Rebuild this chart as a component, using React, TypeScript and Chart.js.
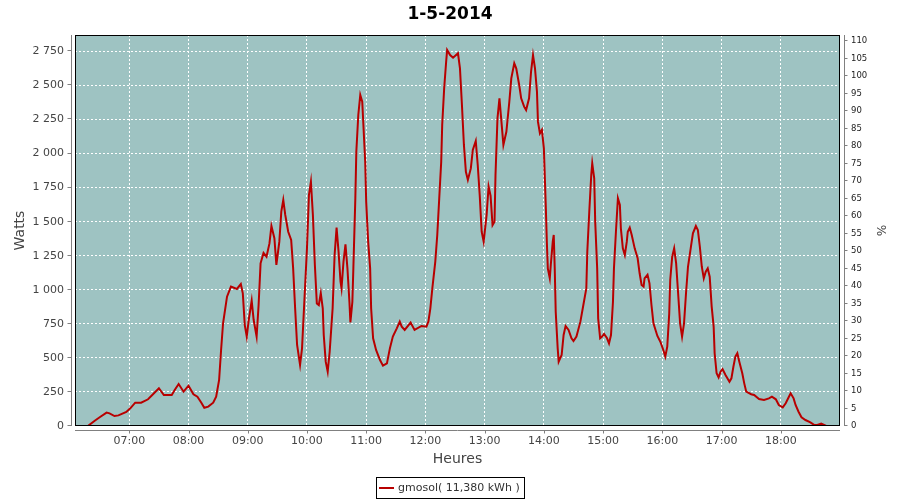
import React, { useEffect, useRef } from "react";
import { Chart, registerables } from "chart.js";

Chart.register(...registerables);

const chartTitle = "1-5-2014";
const seriesName = "gmosol( 11,380 kWh )";
const xTitle = "Heures";
const yTitle = "Watts";
const y2Title = "%";

// minutes since midnight
const minutes = [
  378, 385, 390, 397, 400, 405, 409, 417, 421, 426, 432, 439, 444, 450, 455, 463, 466, 470, 475, 480,
  485, 489, 493, 496, 500, 505, 508, 511, 513, 515, 519, 523, 529, 533, 535, 537, 539, 541, 544, 546,
  549, 551, 553, 556, 559, 562, 564, 567, 569, 572, 574, 576, 578, 581, 584, 586, 588, 590, 593, 595,
  597, 600, 602, 604, 606, 608, 610, 612, 614, 616, 617, 619, 621, 623, 626, 628, 630, 632, 634, 635,
  637, 639, 641, 643, 644, 646, 647, 649, 650, 652, 654, 656, 657, 659, 660, 662, 664, 665, 667, 670,
  674, 677, 681, 684, 687, 691, 694, 696, 699, 705, 709, 716, 721, 723, 725, 727, 730, 732, 734, 736,
  737, 739, 741, 742, 745, 748, 753, 755, 757, 759, 761, 763, 766, 768, 771, 773, 775, 777, 779, 782,
  784, 786, 788, 790, 791, 793, 795, 797, 799, 802, 805, 807, 810, 812, 815, 817, 820, 822, 825, 827,
  829, 831, 833, 834, 836, 838, 840, 841, 842, 843, 844, 846, 847, 849, 850, 851, 852, 854, 855, 858,
  860, 862, 865, 868, 870, 873, 877, 880, 883, 884, 886, 888, 889, 891, 892, 894, 895, 897, 899, 901,
  904, 906, 908, 910, 911, 913, 915, 917, 918, 920, 922, 924, 925, 927, 929, 932, 935, 937, 939, 941,
  942, 945, 947, 949, 951, 955, 958, 961, 963, 965, 967, 968, 970, 972, 974, 976, 978, 980, 982, 984,
  986, 989, 991, 994, 996, 998, 1000, 1002, 1004, 1006, 1008, 1010, 1012, 1013, 1015, 1017, 1019, 1021, 1024, 1028,
  1030, 1032, 1034, 1036, 1038, 1041, 1043, 1045, 1050, 1053, 1058, 1063, 1068, 1071, 1075, 1078, 1082, 1085, 1088, 1090,
  1093, 1095, 1098, 1101, 1105, 1110, 1114, 1117, 1121, 1126,
];

const watts = [
  0, 39, 64, 98, 93, 73, 78, 103, 130, 171, 171, 196, 233, 277, 227, 227, 264, 308, 252, 296,
  233, 215, 171, 134, 142, 171, 215, 338, 558, 754, 949, 1023, 1006, 1042, 974, 741, 656, 778, 920, 778,
  656, 888, 1194, 1270, 1243, 1340, 1468, 1378, 1182, 1353, 1573, 1659, 1549, 1426, 1365, 1157, 864, 595, 448, 570,
  864, 1304, 1695, 1793, 1549, 1182, 900, 888, 974, 864, 668, 472, 399, 545, 864, 1255, 1456, 1280, 1059, 1010,
  1206, 1333, 1157, 912, 760, 912, 1157, 1671, 2013, 2283, 2430, 2380, 2234, 1940, 1646, 1353, 1157, 864, 644, 558,
  484, 443, 460, 570, 656, 717, 766, 729, 705, 759, 705, 734, 729, 766, 864, 1010, 1206, 1402, 1671, 1940,
  2209, 2479, 2674, 2760, 2723, 2703, 2736, 2625, 2356, 2063, 1866, 1806, 1891, 2026, 2092, 1916, 1695, 1426, 1353, 1549,
  1757, 1690, 1475, 1500, 1842, 2258, 2405, 2234, 2063, 2160, 2380, 2552, 2662, 2625, 2503, 2405, 2344, 2319, 2405, 2600,
  2723, 2625, 2454, 2234, 2148, 2173, 2038, 1818, 1598, 1353, 1157, 1084, 1182, 1353, 1402, 1157, 839, 570, 472, 521,
  668, 734, 705, 644, 624, 656, 766, 888, 1010, 1280, 1573, 1842, 1928, 1818, 1500, 1157, 790, 644, 656, 675,
  644, 607, 668, 912, 1157, 1426, 1671, 1622, 1451, 1304, 1255, 1353, 1426, 1456, 1402, 1304, 1231, 1121, 1035, 1023,
  1084, 1110, 1047, 888, 754, 661, 619, 558, 509, 582, 827, 1072, 1243, 1304, 1194, 974, 754, 656, 754, 974,
  1169, 1316, 1414, 1468, 1439, 1316, 1169, 1084, 1133, 1157, 1096, 876, 729, 534, 387, 357, 399, 418, 374, 325,
  350, 435, 509, 534, 472, 387, 313, 252, 233, 228, 198, 191, 203, 215, 196, 154, 137, 167, 211, 240,
  203, 154, 105, 64, 44, 27, 7, 7, 17, 0,
];

const hourTicks = [420, 480, 540, 600, 660, 720, 780, 840, 900, 960, 1020, 1080];
const wattTicks = [0, 250, 500, 750, 1000, 1250, 1500, 1750, 2000, 2250, 2500, 2750];
const percentTicks = [0, 5, 10, 15, 20, 25, 30, 35, 40, 45, 50, 55, 60, 65, 70, 75, 80, 85, 90, 95, 100, 105, 110];

const lineColor = "#b80000";
const plotBg = "#9ec3c2";
const axisGray = "#808080";
const FONT = '"DejaVu Sans", sans-serif';

function fmtHour(v: number): string {
  const h = Math.floor(v / 60);
  const m = Math.round(v - h * 60);
  return String(h).padStart(2, "0") + ":" + String(m).padStart(2, "0");
}

function fmtWatts(v: number): string {
  if (v >= 1000) {
    return Math.floor(v / 1000) + " " + String(v % 1000).padStart(3, "0");
  }
  return String(v);
}

const framePlugin = {
  id: "frame",
  beforeDraw(chart: any) {
    const { ctx, chartArea: a } = chart;
    ctx.save();
    ctx.fillStyle = plotBg;
    ctx.fillRect(a.left, a.top, a.right - a.left, a.bottom - a.top);
    ctx.restore();
  },
  afterDraw(chart: any) {
    const { ctx, chartArea: a, scales } = chart;
    const line = (x1: number, y1: number, x2: number, y2: number) => {
      ctx.beginPath();
      ctx.moveTo(x1, y1);
      ctx.lineTo(x2, y2);
      ctx.stroke();
    };
    ctx.save();
    ctx.lineWidth = 1;
    ctx.strokeStyle = "#000";
    ctx.strokeRect(a.left + 0.5, a.top + 0.5, a.right - a.left - 1, a.bottom - a.top - 1);

    ctx.strokeStyle = axisGray;
    // left axis
    const lx = a.left - 3.5;
    line(lx, a.top, lx, a.bottom);
    for (const t of scales.y.ticks) {
      const py = Math.round(scales.y.getPixelForValue(t.value)) - 0.5;
      line(lx - 4, py, lx, py);
    }
    // right axis
    const rx = a.right + 4.5;
    line(rx, a.top, rx, a.bottom);
    for (const t of scales.y1.ticks) {
      const py = Math.round(scales.y1.getPixelForValue(t.value)) - 0.5;
      line(rx, py, rx + 3, py);
    }
    // bottom axis
    const by = a.bottom + 4.5;
    line(a.left, by, a.right, by);
    for (const t of scales.x.ticks) {
      const px = Math.round(scales.x.getPixelForValue(t.value)) + 0.5;
      line(px, by, px, by + 3);
    }

    // legend
    ctx.font = "11px " + FONT;
    const tw = ctx.measureText(seriesName).width;
    const boxW = Math.round(3 + 15 + 4 + tw + 4);
    const boxH = 21;
    const bx = Math.round(450 - boxW / 2);
    const bTop = 477;
    ctx.strokeStyle = "#000";
    ctx.strokeRect(bx + 0.5, bTop + 0.5, boxW, boxH);
    ctx.strokeStyle = lineColor;
    ctx.lineWidth = 2;
    line(bx + 3, bTop + 11, bx + 18, bTop + 11);
    ctx.fillStyle = "#333";
    ctx.textBaseline = "middle";
    ctx.textAlign = "left";
    ctx.fillText(seriesName, bx + 22, bTop + 11.5);
    ctx.restore();
  },
};

export default function App() {
  const ref = useRef<HTMLCanvasElement | null>(null);

  useEffect(() => {
    if (!ref.current) return;
    const chart = new Chart(ref.current, {
      type: "line",
      data: {
        datasets: [
          {
            label: seriesName,
            data: minutes.map((m, i) => ({ x: m, y: watts[i] })),
            borderColor: lineColor,
            backgroundColor: lineColor,
            borderWidth: 2,
            pointRadius: 0,
            tension: 0,
            yAxisID: "y",
          },
        ],
      },
      options: {
        animation: false,
        responsive: false,
        devicePixelRatio: 1,
        layout: { padding: { left: 0, right: 0, top: 0, bottom: 30 } },
        plugins: {
          legend: { display: false },
          tooltip: { enabled: false },
          title: {
            display: true,
            text: chartTitle,
            color: "#000",
            font: { family: FONT, size: 17, weight: "bold" },
            padding: { top: 4, bottom: 10.6 },
          },
        },
        scales: {
          x: {
            type: "linear",
            min: 365,
            max: 1140,
            afterBuildTicks: (s: any) => {
              s.ticks = hourTicks.map((v) => ({ value: v }));
            },
            afterFit: (s: any) => {
              s.height = 44;
            },
            ticks: {
              callback: (v: any) => fmtHour(Number(v)),
              color: "#444",
              font: { family: FONT, size: 11 },
              padding: 9,
              maxRotation: 0,
              autoSkip: false,
            },
            grid: { color: "#ffffff", drawTicks: false, lineWidth: 1 },
            border: { display: false, dash: [2, 2] },
            title: {
              display: true,
              text: xTitle,
              color: "#444",
              font: { family: FONT, size: 14 },
              padding: { top: 0, bottom: 2 },
            },
          },
          y: {
            type: "linear",
            position: "left",
            min: 0,
            max: 2870,
            afterBuildTicks: (s: any) => {
              s.ticks = wattTicks.map((v) => ({ value: v }));
            },
            afterFit: (s: any) => {
              s.width = 75;
            },
            ticks: {
              callback: (v: any) => fmtWatts(Number(v)),
              color: "#444",
              font: { family: FONT, size: 11 },
              padding: 11,
            },
            grid: { color: "#ffffff", drawTicks: false, lineWidth: 1 },
            border: { display: false, dash: [2, 2] },
            title: {
              display: true,
              text: yTitle,
              color: "#444",
              font: { family: FONT, size: 14 },
              padding: { top: 12, bottom: 0 },
            },
          },
          y1: {
            type: "linear",
            position: "right",
            min: 0,
            max: 111.8,
            afterBuildTicks: (s: any) => {
              s.ticks = percentTicks.map((v) => ({ value: v }));
            },
            afterFit: (s: any) => {
              s.width = 60;
            },
            ticks: {
              color: "#222",
              font: { family: FONT, size: 8.5 },
              padding: 11,
            },
            grid: { drawOnChartArea: false, drawTicks: false },
            border: { display: false },
            title: {
              display: true,
              text: y2Title,
              color: "#444",
              font: { family: FONT, size: 12 },
              padding: { top: 13, bottom: 0 },
            },
          },
        },
      },
      plugins: [framePlugin],
    } as any);
    return () => chart.destroy();
  }, []);

  return (
    <div style={{ position: "fixed", left: 0, top: 0, width: 900, height: 500, background: "#fff" }}>
      <canvas ref={ref} width={900} height={500} style={{ width: 900, height: 500, display: "block" }} />
    </div>
  );
}
